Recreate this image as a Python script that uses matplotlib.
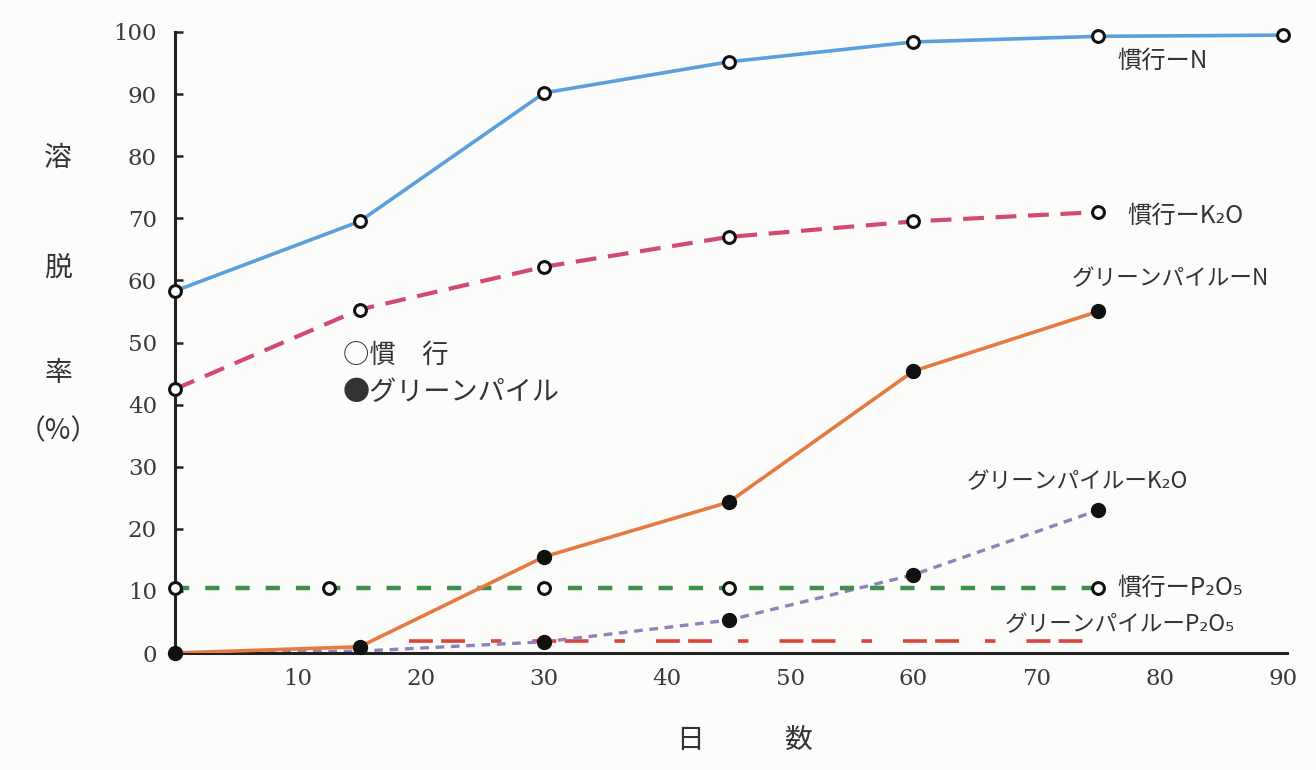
import matplotlib
matplotlib.use("Agg")
import matplotlib.pyplot as plt

# ---- data ----
conv_n_x = [0, 15, 30, 45, 60, 75, 90]
conv_n_y = [58.3, 69.5, 90.2, 95.2, 98.4, 99.3, 99.5]

conv_k_x = [0, 15, 30, 45, 60, 75]
conv_k_y = [42.5, 55.3, 62.2, 67.0, 69.5, 71.0]

conv_p_x = [0, 12.5, 30, 45, 75]
conv_p_y = [10.4, 10.4, 10.4, 10.4, 10.4]

gp_n_x = [0, 15, 30, 45, 60, 75]
gp_n_y = [0, 1.0, 15.5, 24.3, 45.4, 55.0]

gp_k_x = [0, 15, 30, 45, 60, 75]
gp_k_y = [0, 0.3, 1.8, 5.3, 12.6, 23.0]
gp_k_marker_x = [30, 45, 60, 75]
gp_k_marker_y = [1.8, 5.3, 12.6, 23.0]

gp_p_x = [19, 74]
gp_p_y = [1.9, 1.9]

x_ticks = [10, 20, 30, 40, 50, 60, 70, 80, 90]
y_ticks = [0, 10, 20, 30, 40, 50, 60, 70, 80, 90, 100]

series_labels = ["慣行ーN", "慣行ーK₂O", "グリーンパイルーN", "グリーンパイルーK₂O",
                 "慣行ーP₂O₅", "グリーンパイルーP₂O₅"]
legend_labels = ["○慣　行", "●グリーンパイル"]
ylabel_chars = ["溶", "脱", "率", "（%）"]
xlabel_chars = ["日", "数"]

# ---- figure ----
W, H = 1316, 770
fig = plt.figure(figsize=(W / 100, H / 100), dpi=100)
fig.patch.set_facecolor("#fcfcfa")
x0px, x1px = 175, 1287
y0px, y1px = 653, 32
ax = fig.add_axes([x0px / W, 1 - y0px / H, (x1px - x0px) / W, (y0px - y1px) / H])
ax.set_facecolor("none")
ax.set_xlim(0, 90.35)
ax.set_ylim(0, 100)

for s in ["top", "right"]:
    ax.spines[s].set_visible(False)
for s in ["left", "bottom"]:
    ax.spines[s].set_linewidth(2.2)
    ax.spines[s].set_color("#222222")

ax.set_xticks(x_ticks)
ax.set_yticks(y_ticks)
ax.tick_params(axis="x", length=0, pad=11, labelsize=16.5, labelcolor="#3a3a3a")
ax.tick_params(axis="y", direction="in", length=6, width=1.8, color="#222222",
               pad=13, labelsize=16.5, labelcolor="#3a3a3a")
for lab in ax.get_xticklabels() + ax.get_yticklabels():
    lab.set_fontfamily("DejaVu Serif")

open_kw = dict(marker="o", markersize=8.5, markerfacecolor="white",
               markeredgecolor="#111111", markeredgewidth=2.2, clip_on=False)
fill_kw = dict(marker="o", markersize=10, markerfacecolor="#111111",
               markeredgecolor="#111111", clip_on=False)

# green pile P2O5 (dash-dot red)
l, = ax.plot(gp_p_x, gp_p_y, color="#d9453c", lw=2.6, zorder=2)
l.set_dashes([6.6, 2.3, 6.6, 7.2, 2.9, 8.6])
# green pile K2O (purple dashed)
l, = ax.plot(gp_k_x, gp_k_y, color="#8f82b8", lw=2.4, zorder=2)
l.set_dashes([2.6, 2.0])
# conventional P2O5 (green dashed)
l, = ax.plot(conv_p_x + [75], conv_p_y + [10.4], color="#3e8f4c", lw=3.2, zorder=3)
l.set_dashes([3.2, 3.6])
# conventional K2O (crimson dashed)
l, = ax.plot(conv_k_x, conv_k_y, color="#d24a74", lw=3.0, zorder=3)
l.set_dashes([5.0, 2.8])
# conventional N (blue solid)
ax.plot(conv_n_x, conv_n_y, color="#5b9fdc", lw=2.6, zorder=3, solid_capstyle="butt")
# green pile N (orange solid)
ax.plot(gp_n_x, gp_n_y, color="#e77a42", lw=2.6, zorder=3)

# markers
ax.plot(gp_k_marker_x, gp_k_marker_y, ls="none", zorder=5, **fill_kw)
ax.plot(gp_n_x, gp_n_y, ls="none", zorder=5, **fill_kw)
ax.plot(conv_p_x, conv_p_y, ls="none", zorder=6, **open_kw)
ax.plot(conv_k_x, conv_k_y, ls="none", zorder=6, **open_kw)
ax.plot(conv_n_x, conv_n_y, ls="none", zorder=6, **open_kw)

jp = ["Noto Sans CJK JP", "DejaVu Sans"]
tc = "#333333"


def ftext(px, py, s, size, ha="left"):
    fig.text(px / W, 1 - py / H, s, ha=ha, va="center", fontsize=size,
             family=jp, color=tc)


# series labels
ftext(1117, 61, series_labels[0], 17.5)
ftext(1127, 216, series_labels[1], 17.5)
ftext(1072, 279, series_labels[2], 16.3)
ftext(967, 482, series_labels[3], 16.3)
ftext(1117, 588, series_labels[4], 17.5)
ftext(1005, 625, series_labels[5], 16.3)

# legend
ftext(343, 355, legend_labels[0], 19)
ftext(343, 393, legend_labels[1], 19.5)

# y label
for ch, py in zip(ylabel_chars, [158, 268, 373, 431]):
    ftext(58, py, ch, 20, ha="center")

# x label
for ch, px in zip(xlabel_chars, [690, 798]):
    ftext(px, 740, ch, 20, ha="center")

fig.savefig("out.png", dpi=100, facecolor=fig.get_facecolor())
